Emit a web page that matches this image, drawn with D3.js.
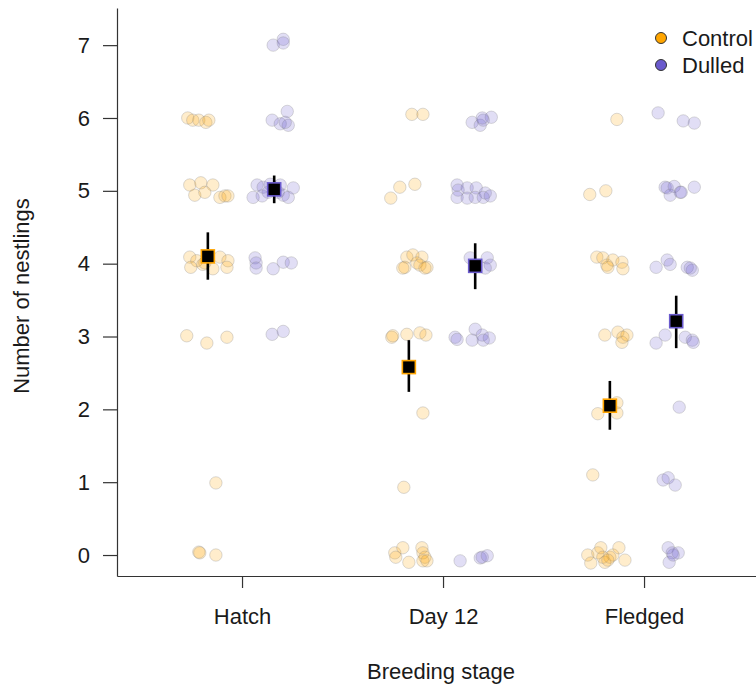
<!DOCTYPE html>
<html>
<head>
<meta charset="utf-8">
<script src="https://cdn.jsdelivr.net/npm/d3@7"></script>
<style>
  body { margin: 0; background: #fff; }
  svg text { font-family: "Liberation Sans", Arial, sans-serif; }
</style>
</head>
<body>
<div id="chart"></div>
<script>
// breeding stages (x categories)
var stages = ["Hatch", "Day 12", "Fledged"];
var treatments = ["Control", "Dulled"];
var yTicks = [0, 1, 2, 3, 4, 5, 6, 7];

// group means and 95% intervals, one per stage
var controlMean = [4.10, 2.58, 2.05];
var controlLo   = [3.78, 2.24, 1.72];
var controlHi   = [4.43, 2.95, 2.39];
var dulledMean  = [5.02, 3.97, 3.21];
var dulledLo    = [4.83, 3.65, 2.84];
var dulledHi    = [5.21, 4.28, 3.56];

// raw nests: [stage index, horizontal jitter (category units), jittered count]
var controlPts = [
  [0,-0.10,6.00],[0,-0.075,5.97],[0,-0.045,5.97],[0,-0.01,5.94],[0,0.005,5.97],
  [0,-0.09,5.08],[0,-0.035,5.11],[0,0.025,5.08],[0,-0.065,4.94],[0,-0.015,4.98],[0,0.06,4.91],[0,0.085,4.93],[0,0.10,4.93],
  [0,-0.09,4.09],[0,-0.055,4.04],[0,-0.085,3.95],[0,0.06,4.09],[0,0.10,4.04],[0,0.025,3.93],[0,0.095,3.95],[0,-0.025,3.99],[0,-0.015,4.01],
  [0,-0.105,3.01],[0,-0.005,2.91],[0,0.095,2.99],
  [0,0.04,0.99],
  [0,-0.045,0.04],[0,-0.04,0.03],[0,0.04,0.00],
  [1,0.015,6.05],[1,0.07,6.05],
  [1,-0.09,4.90],[1,-0.045,5.05],[1,0.03,5.09],
  [1,-0.01,4.09],[1,0.02,4.12],[1,0.065,4.09],[1,-0.02,3.95],[1,0.04,4.01],[1,0.055,3.98],[1,0.09,3.95],[1,-0.03,3.94],[1,0.08,3.94],
  [1,-0.085,2.99],[1,-0.08,3.01],[1,-0.01,3.03],[1,0.055,3.05],[1,0.085,3.02],
  [1,0.07,1.95],
  [1,-0.025,0.93],
  [1,-0.07,0.03],[1,-0.065,-0.03],[1,-0.03,0.10],[1,0.00,-0.10],[1,0.065,0.10],[1,0.07,0.03],[1,0.08,-0.03],[1,0.07,-0.08],[1,0.09,-0.08],
  [2,0.035,5.98],
  [2,-0.10,4.95],[2,-0.02,5.00],
  [2,-0.065,4.09],[2,-0.035,4.08],[2,-0.015,3.98],[2,0.015,4.05],[2,0.06,4.02],[2,0.065,3.93],[2,-0.01,3.95],
  [2,-0.025,3.02],[2,0.04,3.06],[2,0.065,2.99],[2,0.06,2.92],[2,0.085,3.02],
  [2,-0.06,1.94],[2,0.035,2.09],[2,0.035,1.95],
  [2,-0.085,1.10],
  [2,-0.11,0.00],[2,-0.095,-0.11],[2,-0.06,0.03],[2,-0.045,0.10],[2,-0.025,-0.10],[2,0.00,-0.03],[2,0.015,0.00],[2,0.045,0.10],[2,0.075,-0.07],[2,-0.035,-0.03],[2,-0.01,-0.07]
];

var dulledPts = [
  [0,-0.005,7.00],[0,0.045,7.08],[0,0.045,7.03],
  [0,-0.01,5.97],[0,0.065,6.09],[0,0.03,5.92],[0,0.07,5.90],[0,0.055,5.94],
  [0,-0.085,5.08],[0,-0.055,5.05],[0,-0.02,5.09],[0,0.03,5.08],[0,0.095,5.04],[0,-0.105,4.91],[0,-0.06,4.93],[0,0.045,4.94],[0,0.07,4.91],[0,-0.03,4.98],[0,0.02,4.98],
  [0,-0.095,4.08],[0,-0.09,4.01],[0,-0.09,3.94],[0,-0.005,3.93],[0,0.045,4.02],[0,0.085,4.01],
  [0,-0.01,3.03],[0,0.045,3.07],
  [1,-0.015,5.94],[1,0.025,5.90],[1,0.04,5.97],[1,0.08,6.01],[1,0.035,6.00],
  [1,-0.09,5.08],[1,-0.085,5.01],[1,-0.09,4.91],[1,-0.04,5.04],[1,-0.04,4.90],[1,0.005,5.04],[1,0.00,4.91],[1,0.05,4.97],[1,0.04,4.91],[1,0.075,4.93],
  [1,-0.025,4.08],[1,0.06,4.08],[1,0.075,3.98],[1,0.05,3.94],
  [1,-0.10,2.99],[1,-0.09,2.96],[1,-0.015,2.95],[1,0.00,3.10],[1,0.035,3.02],[1,0.04,2.95],[1,0.07,2.98],
  [1,-0.075,-0.08],[1,0.025,-0.04],[1,0.035,-0.03],[1,0.06,-0.01],
  [2,-0.09,6.07],[2,0.035,5.96],[2,0.09,5.93],
  [2,-0.055,5.05],[2,-0.045,5.04],[2,-0.01,5.06],[2,-0.03,4.94],[2,0.02,4.98],[2,0.025,4.98],[2,0.09,5.05],
  [2,-0.10,3.95],[2,-0.045,4.05],[2,-0.03,3.99],[2,0.055,3.95],[2,0.08,3.91],[2,0.07,3.94],
  [2,-0.10,2.91],[2,-0.055,3.02],[2,0.045,2.99],[2,0.08,2.95],[2,0.085,2.92],
  [2,0.015,2.03],
  [2,-0.065,1.03],[2,-0.04,1.06],[2,-0.005,0.96],
  [2,-0.04,0.10],[2,-0.02,0.03],[2,0.01,0.03],[2,-0.035,-0.10],[2,-0.015,0.00]
];

var colors = {Control: "#FFA500", Dulled: "#6A5ACD"};
var dodge = {Control: -0.17, Dulled: 0.16};

var W = 756, H = 685;
var svg = d3.select("#chart").append("svg")
  .attr("width", W).attr("height", H);

var x = d3.scaleLinear().domain([0.378, 3.557]).range([117, 756]);
var y = d3.scaleLinear().domain([-0.288, 7.51]).range([576, 8]);

// axes
var yAxis = svg.append("g")
  .attr("transform", "translate(117,0)")
  .call(d3.axisLeft(y).tickValues(yTicks).tickFormat(d3.format("d"))
        .tickSize(14).tickSizeOuter(0).tickPadding(13));
var xAxis = svg.append("g")
  .attr("transform", "translate(0,576)")
  .call(d3.axisBottom(x).tickValues([1, 2, 3]).tickFormat(function(d) { return stages[d - 1]; })
        .tickSize(12).tickSizeOuter(0).tickPadding(20));

[yAxis, xAxis].forEach(function(a) {
  a.selectAll("path, line").attr("stroke", "#333").attr("stroke-width", 1.2);
  a.selectAll("text").attr("fill", "#1a1a1a").style("font-size", "22px");
});

// raw points
function drawPts(pts, tr) {
  svg.append("g").selectAll("circle")
    .data(pts).enter().append("circle")
    .attr("cx", function(d) { return x(d[0] + 1 + dodge[tr] + d[1]); })
    .attr("cy", function(d) { return y(d[2]); })
    .attr("r", 6.2)
    .attr("fill", colors[tr])
    .attr("fill-opacity", 0.2)
    .attr("stroke", "#888")
    .attr("stroke-opacity", 0.3)
    .attr("stroke-width", 1);
}
drawPts(controlPts, "Control");
drawPts(dulledPts, "Dulled");

// means with intervals
function drawMeans(mean, lo, hi, tr) {
  var g = svg.append("g");
  g.selectAll("line").data(mean).enter().append("line")
    .attr("x1", function(d, i) { return x(i + 1 + dodge[tr]); })
    .attr("x2", function(d, i) { return x(i + 1 + dodge[tr]); })
    .attr("y1", function(d, i) { return y(lo[i]); })
    .attr("y2", function(d, i) { return y(hi[i]); })
    .attr("stroke", "#000").attr("stroke-width", 2.6);
  g.selectAll("rect").data(mean).enter().append("rect")
    .attr("x", function(d, i) { return x(i + 1 + dodge[tr]) - 6.5; })
    .attr("y", function(d) { return y(d) - 6.5; })
    .attr("width", 13).attr("height", 13)
    .attr("fill", "#000")
    .attr("stroke", colors[tr]).attr("stroke-width", 1.6);
}
drawMeans(controlMean, controlLo, controlHi, "Control");
drawMeans(dulledMean, dulledLo, dulledHi, "Dulled");

// axis titles
svg.append("text")
  .attr("x", 441).attr("y", 679)
  .attr("text-anchor", "middle")
  .style("font-size", "22px").attr("fill", "#1a1a1a")
  .text("Breeding stage");
svg.append("text")
  .attr("transform", "translate(29,296) rotate(-90)")
  .attr("text-anchor", "middle")
  .style("font-size", "22px").attr("fill", "#1a1a1a")
  .text("Number of nestlings");

// legend
var leg = svg.append("g").selectAll("g").data(treatments).enter().append("g")
  .attr("transform", function(d, i) { return "translate(661," + (38 + i * 27) + ")"; });
leg.append("circle").attr("r", 5.5)
  .attr("fill", function(d) { return colors[d]; })
  .attr("stroke", "#333").attr("stroke-width", 1);
leg.append("text").attr("x", 21).attr("dy", "0.36em")
  .style("font-size", "22px").attr("fill", "#1a1a1a")
  .text(function(d) { return d; });
</script>
</body>
</html>
